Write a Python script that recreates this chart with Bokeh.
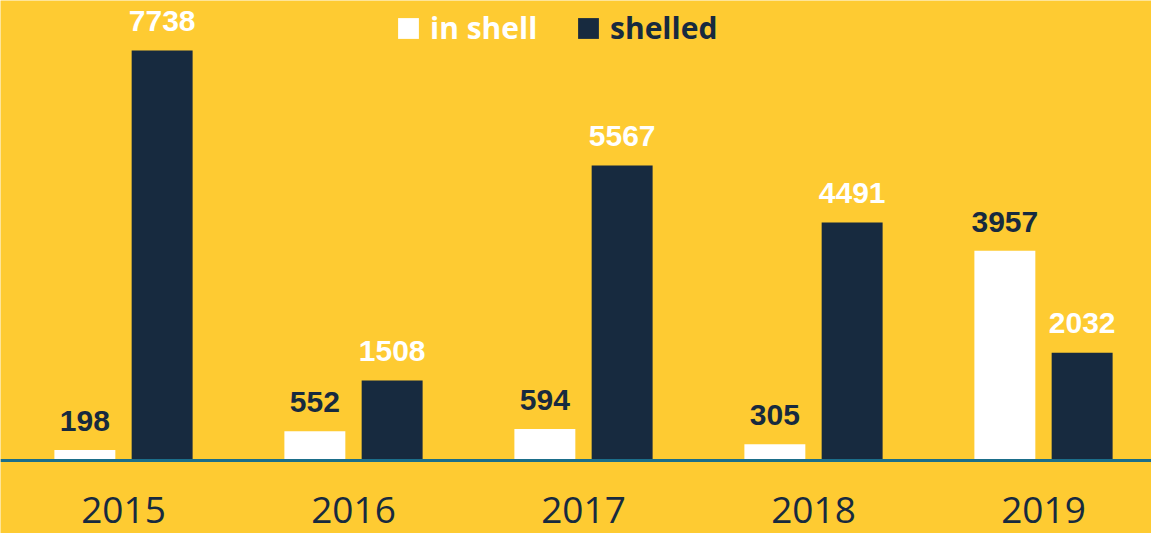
from bokeh.plotting import figure
from bokeh.models import ColumnDataSource, Range1d, Span, Legend, LegendItem
from bokeh.transform import dodge
from bokeh.core.properties import value
from bokeh.embed import file_html
from bokeh.resources import INLINE

years = [2015, 2016, 2017, 2018, 2019]
year_labels = ["2015", "2016", "2017", "2018", "2019"]
in_shell = [198, 552, 594, 305, 3957]
shelled = [7738, 1508, 5567, 4491, 2032]

YELLOW = "#FECB32"
NAVY = "#172A3F"
WHITE = "#FFFFFF"
TEAL = "#1B6E8A"

src = ColumnDataSource(dict(
    year=years, label=year_labels, in_shell=in_shell, shelled=shelled,
    in_shell_txt=[str(v) for v in in_shell], shelled_txt=[str(v) for v in shelled],
    zero=[0] * len(years),
))

W, H = 1151, 533
BASE = 460          # pixel row of the zero line
upp = 7738 / 410.0  # data units per pixel
x0 = 2015 - 123 / 230.0
p = figure(width=W, height=H, output_backend="svg", toolbar_location=None,
           x_axis_location=None, y_axis_location=None,
           x_range=Range1d(x0, x0 + W / 230.0),
           y_range=Range1d(-(H - BASE) * upp, BASE * upp),
           min_border=0, min_border_left=0, min_border_right=0,
           min_border_top=0, min_border_bottom=0)
p.background_fill_color = YELLOW
p.border_fill_color = YELLOW
p.outline_line_color = None
p.xgrid.visible = False
p.ygrid.visible = False

off = 0.168
bw = 0.265
r1 = p.vbar(x=dodge("year", -off, range=p.x_range), top="in_shell", width=bw,
            source=src, fill_color=WHITE, line_color=None)
r2 = p.vbar(x=dodge("year", off, range=p.x_range), top="shelled", width=bw,
            source=src, fill_color=NAVY, line_color=None)

p.add_layout(Span(location=0, dimension="width", line_color=TEAL, line_width=3))

lab_font = value("Liberation Sans")
p.text(x=dodge("year", -off, range=p.x_range), y="in_shell", text="in_shell_txt",
       source=src, text_font=lab_font, text_font_style="bold", text_font_size="30px",
       text_color=NAVY, text_align="center", text_baseline="alphabetic", y_offset=-29)
p.text(x=dodge("year", off, range=p.x_range), y="shelled", text="shelled_txt",
       source=src, text_font=lab_font, text_font_style="bold", text_font_size="30px",
       text_color=WHITE, text_align="center", text_baseline="alphabetic", y_offset=-30)

p.text(x="year", y="zero", text="label", source=src, text_font=value("Open Sans"),
       text_font_size="37px", text_color=NAVY, text_align="center",
       text_baseline="alphabetic", y_offset=49)

for item_label, rend, color, x in [("in shell", r1, WHITE, 395), ("shelled", r2, NAVY, 575)]:
    lg = Legend(items=[LegendItem(label=item_label, renderers=[rend])],
                location=(x, 485), orientation="horizontal",
                glyph_width=26, glyph_height=26, label_standoff=9,
                padding=0, margin=0, spacing=0,
                background_fill_alpha=0, border_line_color=None,
                label_text_font="Open Sans", label_text_font_style="bold",
                label_text_font_size="30px", label_text_color=color)
    p.add_layout(lg, "center")

open("out.html", "w").write(file_html(p, INLINE))
